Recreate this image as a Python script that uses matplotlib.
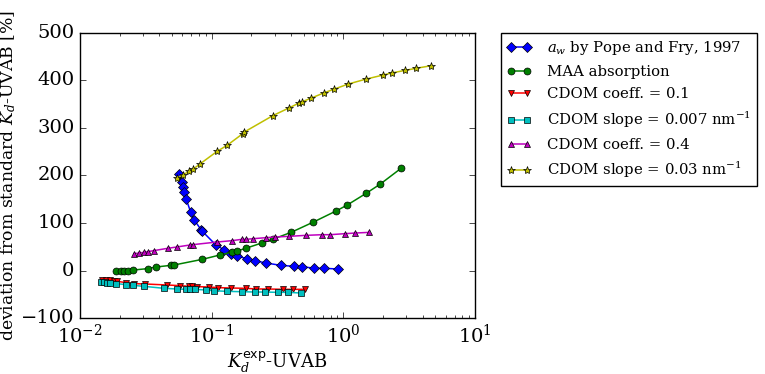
import matplotlib
matplotlib.use("Agg")
import matplotlib.pyplot as plt

plt.style.use('classic')
plt.rcParams['font.family'] = ['DejaVu Serif']
plt.rcParams['mathtext.fontset'] = 'dejavuserif'
plt.rcParams['figure.facecolor'] = 'white'
plt.rcParams['savefig.facecolor'] = 'white'

# data: x = Kd_exp-UVAB, y = deviation [%]
aw_x = [0.0568, 0.0592, 0.0603, 0.0617, 0.0639, 0.0693, 0.0738, 0.0830, 0.0849, 0.107,
        0.123, 0.139, 0.157, 0.187, 0.212, 0.259, 0.334, 0.422, 0.488, 0.603, 0.718, 0.906]
aw_y = [203, 186, 176, 166, 151, 122.5, 106, 86, 82.5, 54.4,
        43.9, 34.7, 29.8, 24.9, 20.7, 15.8, 10.9, 8.8, 8.1, 4.6, 4.6, 3.2]

maa_x = [0.01866, 0.0204, 0.0217, 0.0232, 0.0254, 0.0327, 0.0378, 0.0491, 0.0518, 0.0849,
         0.115, 0.143, 0.156, 0.181, 0.240, 0.294, 0.401, 0.592, 0.880, 1.06, 1.49, 1.91, 2.74]
maa_y = [0, 0, 0, 0, 1, 4, 7.4, 10.9, 11.6, 23.5,
         32.6, 38.9, 41, 46.7, 57.9, 66.3, 80.3, 102, 125.3, 137.2, 162.5, 182.1, 215.1]

c01_x = [0.01462, 0.01575, 0.01689, 0.0181, 0.01921, 0.0224, 0.0259, 0.0313, 0.0460, 0.0575,
         0.0673, 0.0705, 0.0778, 0.0955, 0.112, 0.139, 0.182, 0.217, 0.266, 0.346, 0.412, 0.508]
c01_y = [-19.3, -20, -20.7, -21.4, -22.8, -25.6, -27.7, -28.4, -30.5, -31.9,
         -33.3, -33.3, -34, -34.7, -36.1, -36.8, -37.5, -38.9, -38.9, -39.6, -39.6, -39.6]

s007_x = [0.01436, 0.01521, 0.01594, 0.01689, 0.01866, 0.02235, 0.0251, 0.0305, 0.0434, 0.0542,
          0.0635, 0.0681, 0.0747, 0.0900, 0.104, 0.130, 0.170, 0.212, 0.254, 0.317, 0.378, 0.480]
s007_y = [-23.5, -24.9, -25.6, -26.3, -27.4, -29.8, -31.2, -33.3, -37.5, -38.9,
          -39.6, -39.6, -39.6, -41, -42.5, -43.9, -44.6, -45.3, -45.3, -46, -46, -47.4]

c04_x = [0.0257, 0.0282, 0.0305, 0.0327, 0.0362, 0.0463, 0.0542, 0.0684, 0.0717, 0.110,
         0.142, 0.169, 0.182, 0.207, 0.257, 0.303, 0.387, 0.517, 0.693, 0.792, 1.02, 1.23, 1.57]
c04_y = [35.4, 36.8, 38.2, 39.6, 41.8, 46.7, 49.5, 53.7, 54.4, 60,
         62.8, 65.6, 65.6, 67, 69.1, 70.5, 71.9, 74, 75.4, 75.4, 77.5, 78.9, 80.3]

s003_x = [0.0542, 0.0610, 0.0673, 0.0726, 0.0820, 0.110, 0.131, 0.172, 0.177, 0.291,
          0.385, 0.461, 0.488, 0.565, 0.718, 0.855, 1.09, 1.49, 2.01, 2.32, 2.96, 3.56, 4.66]
s003_y = [194.7, 201.8, 208.8, 213.7, 224.9, 250.9, 263.5, 288, 291.6, 326,
          342, 352.6, 355.4, 362.5, 374.4, 382, 392.6, 403, 411.6, 415.8, 421.4, 425.6, 431.2]

labels = [r'$a_w$ by Pope and Fry, 1997',
          'MAA absorption',
          'CDOM coeff. = 0.1',
          r'CDOM slope = 0.007 nm$^{-1}$',
          'CDOM coeff. = 0.4',
          r'CDOM slope = 0.03 nm$^{-1}$']

fig = plt.figure(figsize=(7.65, 3.74), dpi=100)
ax = fig.add_axes([0.1046, 0.1497, 0.5164, 0.7621])

series = [
    (aw_x, aw_y, 'b', 'D', 5.5),
    (maa_x, maa_y, 'g', 'o', 5.0),
    (c01_x, c01_y, 'r', 'v', 5.0),
    (s007_x, s007_y, 'c', 's', 5.0),
    (c04_x, c04_y, 'm', '^', 5.0),
    (s003_x, s003_y, 'y', '*', 6.0),
]
for (x, y, c, m, ms), lab in zip(series, labels):
    ax.plot(x, y, '-', color=c, marker=m, markersize=ms, markeredgecolor='k',
            markeredgewidth=0.5, linewidth=1.1, label=lab)

ax.set_xscale('log')
ax.set_xlim(1e-2, 1e1)
ax.set_ylim(-100, 500)
ax.set_yticks([-100, 0, 100, 200, 300, 400, 500])
ax.tick_params(labelsize=14)
ax.set_xlabel(r'$K_d^{\mathsf{exp}}$-UVAB', fontsize=13, labelpad=2)
ax.set_ylabel(r'deviation from standard $K_d$-UVAB $[\%]$', fontsize=12.4, labelpad=2)

ax.legend(loc='upper left', bbox_to_anchor=(1.065, 1.0), fontsize=10.7,
          numpoints=2, borderaxespad=0, frameon=True, fancybox=False,
          handlelength=1.7, handletextpad=1.0, labelspacing=0.55)

fig.savefig('out.png', dpi=100, facecolor='white')
